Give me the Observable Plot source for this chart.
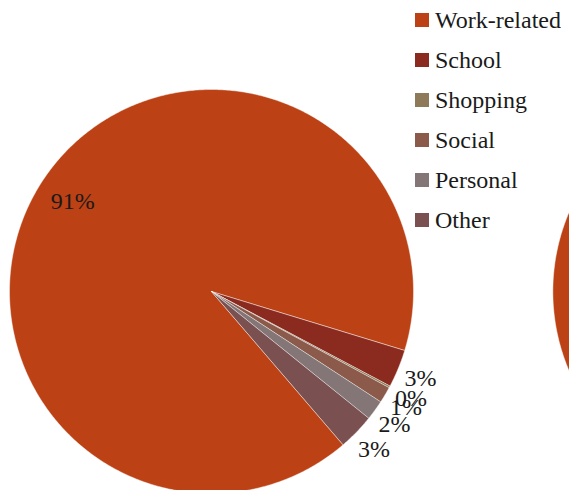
<!DOCTYPE html>
<html>
<head>
<meta charset="utf-8">
<script src="https://cdn.jsdelivr.net/npm/d3@7"></script>
<script src="https://cdn.jsdelivr.net/npm/@observablehq/plot@0.6"></script>
<style>
  html, body { margin: 0; padding: 0; background: #fff; overflow: hidden; }
  #wrap { position: relative; width: 569px; height: 490px; }
  #wrap svg { display: block; }
  #wrap svg text { font-family: 'Liberation Serif', 'DejaVu Serif', serif !important; }
  #legend { position: absolute; left: 415px; top: 0px; width: 154px; }
  #legend, #legend * { font-family: 'Liberation Serif', 'DejaVu Serif', serif !important; font-size: 24px !important; color: #1a1a1a !important; }
  .lg-swatches { margin: 0 !important; min-height: 0 !important; }
  .lg-swatch { height: 40px !important; padding: 0 !important; margin: 0 !important; display: flex !important; align-items: center !important; }
  .lg-swatch svg { margin-right: 6px !important; flex-shrink: 0; }
  .lg-swatch-label, .lg-swatch span { overflow: visible !important; white-space: nowrap; }
</style>
</head>
<body>
<div id="wrap"><div id="legend"></div></div>
<script>
// ---- data ----
const categories = ["Work-related", "School", "Shopping", "Social", "Personal", "Other"];
const shares = [91.05, 3.03, 0.15, 1.3, 1.6, 2.9];           // percent, main pie
const secondPieShares = [91.05, 3.03, 0.15, 1.3, 1.6, 2.9];  // right-hand pie (only its left edge is visible)
const colors = ["#BC4114", "#8B2A1E", "#8E7A58", "#8B5A4A", "#847676", "#7A5050"];

// ---- layout ----
const W = 569, H = 490;
const firstSliceAngle = 139.3;          // degrees clockwise from 12 o'clock
const secondPieOffset = 2.69;           // centre offset of the second pie, in radii
const view = {x0: -1.0446, x1: 1.7723, y0: -1.4406, y1: 0.9851}; // visible window, in radii
const fontFamily = "'Liberation Serif', 'DejaVu Serif', serif";

const rad = d => d * Math.PI / 180;
function pieArcs(values) {
  return d3.pie().sort(null)
    .startAngle(rad(firstSliceAngle))
    .endAngle(rad(firstSliceAngle) + 2 * Math.PI)(values);
}
function sliceFeatures(arcs, cx) {
  return arcs.map((a, i) => {
    const ring = [[cx, 0]];
    const n = Math.max(2, Math.ceil((a.endAngle - a.startAngle) / rad(0.5)));
    for (let k = 0; k <= n; ++k) {
      const t = a.startAngle + (a.endAngle - a.startAngle) * k / n;
      ring.push([cx + Math.sin(t), -Math.cos(t)]);
    }
    ring.push([cx, 0]);
    return {type: "Feature", properties: {category: categories[i]}, geometry: {type: "Polygon", coordinates: [ring]}};
  });
}

const arcs1 = pieArcs(shares);
const arcs2 = pieArcs(secondPieShares);
const slices = [...sliceFeatures(arcs1, 0), ...sliceFeatures(arcs2, secondPieOffset)];
const total = d3.sum(shares);
const labels = arcs1.map((a, i) => {
  const mid = (a.startAngle + a.endAngle) / 2;
  const pct = shares[i] / total * 100;
  const r = pct > 10 ? 0.82 : 1.12;
  return {x: r * Math.sin(mid), y: -r * Math.cos(mid), text: Math.round(pct) + "%"};
});

const domain = {type: "Polygon", coordinates: [[
  [view.x0, view.y0], [view.x1, view.y0], [view.x1, view.y1], [view.x0, view.y1], [view.x0, view.y0]
]]};

const chart = Plot.plot({
  width: W, height: H,
  margin: 0,
  projection: {type: "identity", domain, inset: 0},
  color: {type: "ordinal", domain: categories, range: colors},
  style: {fontFamily, background: "white"},
  marks: [
    Plot.geo(slices, {fill: d => d.properties.category, stroke: "white", strokeWidth: 0.8, strokeOpacity: 0.55}),
    Plot.text(labels, {x: "x", y: "y", text: "text", fontSize: 24, fill: "#1a1a1a", fontFamily})
  ]
});
document.getElementById("wrap").prepend(chart);

const legend = Plot.legend({
  color: {type: "ordinal", domain: categories, range: colors},
  legend: "swatches",
  columns: 1,
  swatchSize: 14,
  className: "lg",
  style: {fontFamily, fontSize: "24px", color: "#1a1a1a"}
});
document.getElementById("legend").append(legend);
</script>
</body>
</html>
